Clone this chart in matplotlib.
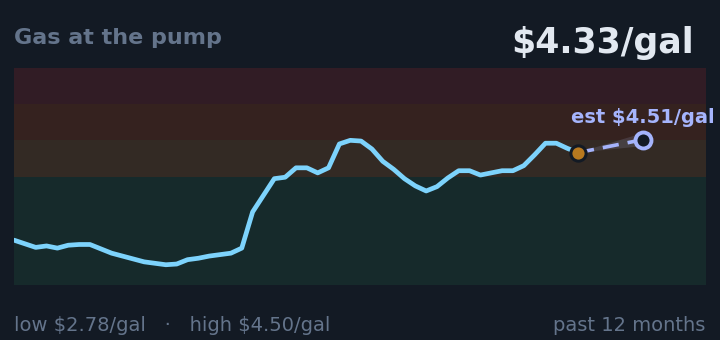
import matplotlib
matplotlib.use("Agg")
import matplotlib.pyplot as plt
import numpy as np

# ---- data ----
prices = [3.12, 3.07, 3.02, 3.04, 3.01, 3.05, 3.06, 3.06, 3.00, 2.94,
          2.90, 2.86, 2.82, 2.80, 2.78, 2.79, 2.85, 2.87, 2.90, 2.92,
          2.94, 3.01, 3.51, 3.74, 3.97, 3.99, 4.12, 4.12, 4.05, 4.12,
          4.45, 4.50, 4.49, 4.38, 4.21, 4.10, 3.97, 3.87, 3.80, 3.86,
          3.98, 4.08, 4.08, 4.02, 4.05, 4.08, 4.08, 4.15, 4.30, 4.46,
          4.46, 4.39, 4.33]
current_price = 4.33
estimate_price = 4.51
estimate_week = 58
estimate_spread = 0.09
low_price = 2.78
high_price = 4.50
band_edges = [2.5, 4.0, 4.5, 5.0, 5.5]
band_colors = ["#162a2b", "#332a24", "#35221f", "#311c25"]

title = "Gas at the pump"
value_label = "$4.33/gal"
est_label = "est $4.51/gal"
footer_left = "low $2.78/gal   \u00b7   high $4.50/gal"
footer_right = "past 12 months"

# ---- style ----
plt.rcParams["text.parse_math"] = False
BG = "#131a24"
LINE = "#7dd3fc"
EST = "#a5b4fc"
MUTED = "#64748b"
AMBER = "#b7791f"

fig = plt.figure(figsize=(7.2, 3.4), dpi=100, facecolor=BG)
ax = fig.add_axes([14/720, 1 - 285/340, 692/720, 217/340])
ax.set_facecolor(BG)

weeks = np.arange(len(prices))
ax.set_xlim(0, 63.8)
ax.set_ylim(band_edges[0], band_edges[-1])

for lo, hi, c in zip(band_edges[:-1], band_edges[1:], band_colors):
    ax.axhspan(lo, hi, color=c, lw=0, zorder=0)

ax.plot(weeks, prices, color=LINE, lw=3.4, solid_joinstyle="round",
        solid_capstyle="round", zorder=3)

last = weeks[-1]
# uncertainty cone
ax.fill([last, estimate_week, estimate_week],
        [current_price, estimate_price + estimate_spread, estimate_price - estimate_spread],
        color="#8b8fb0", alpha=0.22, lw=0, zorder=2)
ax.plot([last, estimate_week], [current_price, estimate_price], color=EST, lw=2.6,
        dashes=(4.5, 2.5), zorder=4)
ax.plot([last], [current_price], "o", ms=11, mfc=AMBER, mec=BG, mew=2.2, zorder=5)
ax.plot([estimate_week], [estimate_price], "o", ms=11.5, mfc=BG, mec=EST, mew=2.8, zorder=5)
ax.annotate(est_label, (estimate_week, estimate_price), xytext=(0, 12),
            textcoords="offset points", ha="center", va="baseline",
            color=EST, fontsize=14, fontweight="bold", annotation_clip=False, zorder=6)

for s in ax.spines.values():
    s.set_visible(False)
ax.set_xticks([])
ax.set_yticks([])

fig.text(14/720, 1 - 44/340, title, color=MUTED, fontsize=16, fontweight="bold",
         ha="left", va="baseline")
fig.text(694/720, 1 - 53/340, value_label, color="#e2e8f0", fontsize=25,
         fontweight="bold", ha="right", va="baseline")
fig.text(14/720, 1 - 331/340, footer_left, color=MUTED, fontsize=14,
         ha="left", va="baseline")
fig.text(705/720, 1 - 331/340, footer_right, color=MUTED, fontsize=14,
         ha="right", va="baseline")

fig.savefig("out.png", dpi=100, facecolor=BG)
